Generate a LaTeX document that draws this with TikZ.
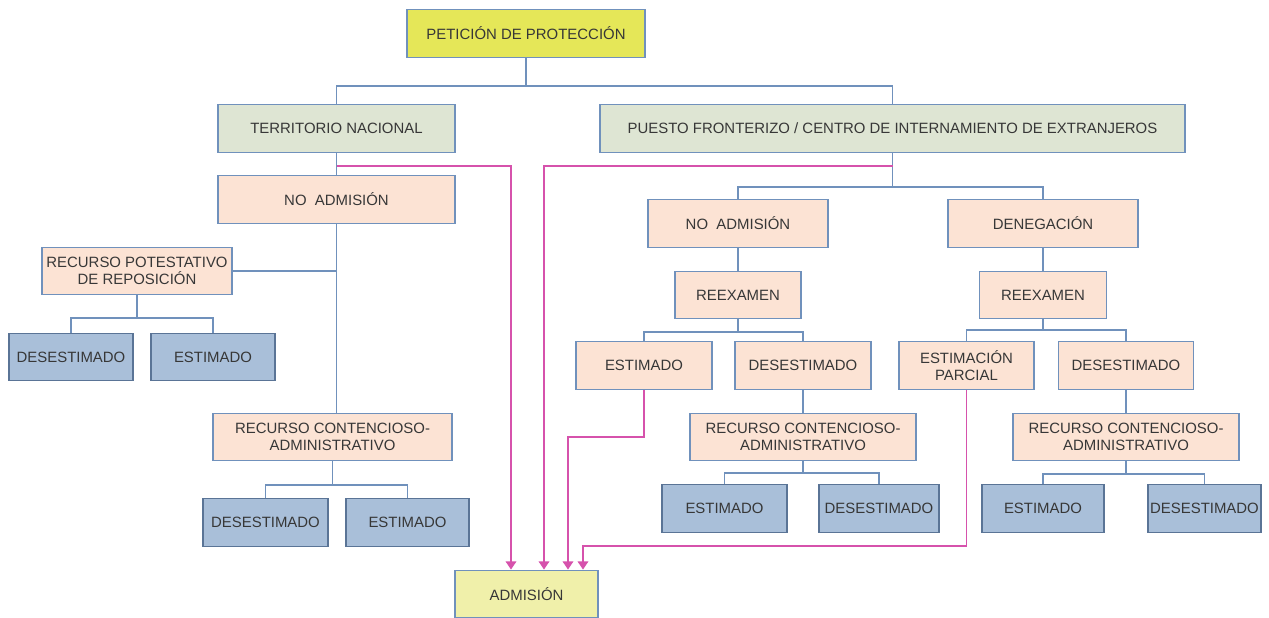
\documentclass[tikz,border=0pt]{standalone}
\usepackage{fontspec}
\setmainfont{Liberation Sans}
\usetikzlibrary{arrows.meta}

\definecolor{bxline}{RGB}{112,145,188}
\definecolor{pinkln}{RGB}{214,82,172}
\definecolor{fyellow}{RGB}{229,231,88}
\definecolor{flight}{RGB}{240,240,170}
\definecolor{fgreen}{RGB}{222,229,211}
\definecolor{fpeach}{RGB}{252,227,212}
\definecolor{fblue}{RGB}{169,191,217}
\definecolor{txt}{RGB}{55,55,55}

\begin{document}
\begin{tikzpicture}[x=0.02cm,y=-0.02cm,
        every node/.style={font=\fontsize{8.5}{10}\selectfont,text=txt,align=center,inner sep=1pt},
        bx/.style={draw=bxline,line width=0.8pt,minimum height=0.95cm},
        bxyellow/.style={bx,fill=fyellow},
        bxlight/.style={bx,fill=flight},
        bxgreen/.style={bx,fill=fgreen},
        bxpeach/.style={bx,fill=fpeach},
        bxblue/.style={bx,fill=fblue,draw=bxline!80!black},
        ln/.style={draw=bxline,line width=0.8pt},
        pk/.style={draw=pinkln,line width=0.8pt,-{Triangle[length=4.6pt,width=6pt]}}
      ]

      \useasboundingbox (0,0) rectangle (1269,618);

      \path (526,33.5) node[bxyellow,minimum width=4.76cm] (pet) {PETICIÓN DE PROTECCIÓN};
      \path (336.5,128.5) node[bxgreen,minimum width=4.74cm] (tn) {TERRITORIO NACIONAL};
      \path (892.5,128.5) node[bxgreen,minimum width=11.7cm] (pf) {PUESTO FRONTERIZO / CENTRO DE INTERNAMIENTO DE EXTRANJEROS};

      \path (336.5,199.5) node[bxpeach,minimum width=4.74cm] (na1) {NO\ \ ADMISIÓN};
      \path (137,271) node[bxpeach,minimum width=3.8cm] (rp) {RECURSO POTESTATIVO\\DE REPOSICIÓN};
      \path (71,357) node[bxblue,minimum width=2.48cm] (d1) {DESESTIMADO};
      \path (213,357) node[bxblue,minimum width=2.48cm] (e1) {ESTIMADO};
      \path (332.5,437) node[bxpeach,minimum width=4.78cm] (rc1) {RECURSO CONTENCIOSO-\\ADMINISTRATIVO};
      \path (265.5,522.5) node[bxblue,minimum width=2.5cm] (d2) {DESESTIMADO};
      \path (407.5,522.5) node[bxblue,minimum width=2.46cm] (e2) {ESTIMADO};
      \path (526.5,594) node[bxlight,minimum width=2.86cm] (adm) {ADMISIÓN};

      \path (738,223.5) node[bxpeach,minimum width=3.6cm] (na2) {NO\ \ ADMISIÓN};
      \path (1043,223.5) node[bxpeach,minimum width=3.8cm] (den) {DENEGACIÓN};
      \path (738,295) node[bxpeach,minimum width=2.52cm] (rx1) {REEXAMEN};
      \path (1043,295) node[bxpeach,minimum width=2.54cm] (rx2) {REEXAMEN};
      \path (644,365.5) node[bxpeach,minimum width=2.72cm] (e3) {ESTIMADO};
      \path (803,365.5) node[bxpeach,minimum width=2.72cm] (d3) {DESESTIMADO};
      \path (803,437) node[bxpeach,minimum width=4.52cm] (rc2) {RECURSO CONTENCIOSO-\\ADMINISTRATIVO};
      \path (724.5,508.5) node[bxblue,minimum width=2.5cm] (e4) {ESTIMADO};
      \path (879,508.5) node[bxblue,minimum width=2.4cm] (d4) {DESESTIMADO};
      \path (966.5,365.5) node[bxpeach,minimum width=2.7cm] (ep) {ESTIMACIÓN\\PARCIAL};
      \path (1126,365.5) node[bxpeach,minimum width=2.7cm] (d5) {DESESTIMADO};
      \path (1126,437) node[bxpeach,minimum width=4.52cm] (rc3) {RECURSO CONTENCIOSO-\\ADMINISTRATIVO};
      \path (1043,508.5) node[bxblue,minimum width=2.44cm] (e5) {ESTIMADO};
      \path (1204.5,508.5) node[bxblue,minimum width=2.26cm] (d6) {DESESTIMADO};

      \coordinate (j0) at (526,86);
      \coordinate (j1) at (137,318);
      \coordinate (j2) at (332.5,485);
      \coordinate (j3) at (892.5,187);
      \coordinate (j4) at (738,332);
      \coordinate (j5) at (1043,330);
      \coordinate (j6) at (803,473);
      \coordinate (j7) at (1126,474);
      \coordinate (p1) at (336.5,166);
      \coordinate (p2) at (892.5,166);
      \coordinate (k3) at (644,437);
      \coordinate (k4) at (966.5,546);

      \draw[ln] (pet.south) -- (j0) -| (tn.north);
      \draw[ln] (j0) -| (pf.north);
      \draw[ln] (tn.south) -- (na1.north);
      \draw[ln] (na1.south) -- (na1.south |- rc1.north);
      \draw[ln] (rp.east) -- (na1.south |- rp.east);
      \draw[ln] (rp.south) -- (j1) -| (d1.north);
      \draw[ln] (j1) -| (e1.north);
      \draw[ln] (rc1.south) -- (j2) -| (d2.north);
      \draw[ln] (j2) -| (e2.north);
      \draw[ln] (pf.south) -- (j3) -| (na2.north);
      \draw[ln] (j3) -| (den.north);
      \draw[ln] (na2.south) -- (rx1.north);
      \draw[ln] (den.south) -- (rx2.north);
      \draw[ln] (rx1.south) -- (j4) -| (e3.north);
      \draw[ln] (j4) -| (d3.north);
      \draw[ln] (d3.south) -- (rc2.north);
      \draw[ln] (rc2.south) -- (j6) -| (e4.north);
      \draw[ln] (j6) -| (d4.north);
      \draw[ln] (rx2.south) -- (j5) -| (ep.north);
      \draw[ln] (j5) -| (d5.north);
      \draw[ln] (d5.south) -- (rc3.north);
      \draw[ln] (rc3.south) -- (j7) -| (e5.north);
      \draw[ln] (j7) -| (d6.north);

      \draw[pk] (p1) -| ([xshift=-0.31cm]adm.north);
      \draw[pk] (p2) -| ([xshift=0.35cm]adm.north);
      \draw[pk] (e3.south) -- (k3) -| ([xshift=0.83cm]adm.north);
      \draw[pk] (ep.south) -- (k4) -| ([xshift=1.13cm]adm.north);

    \end{tikzpicture}
\end{document}
